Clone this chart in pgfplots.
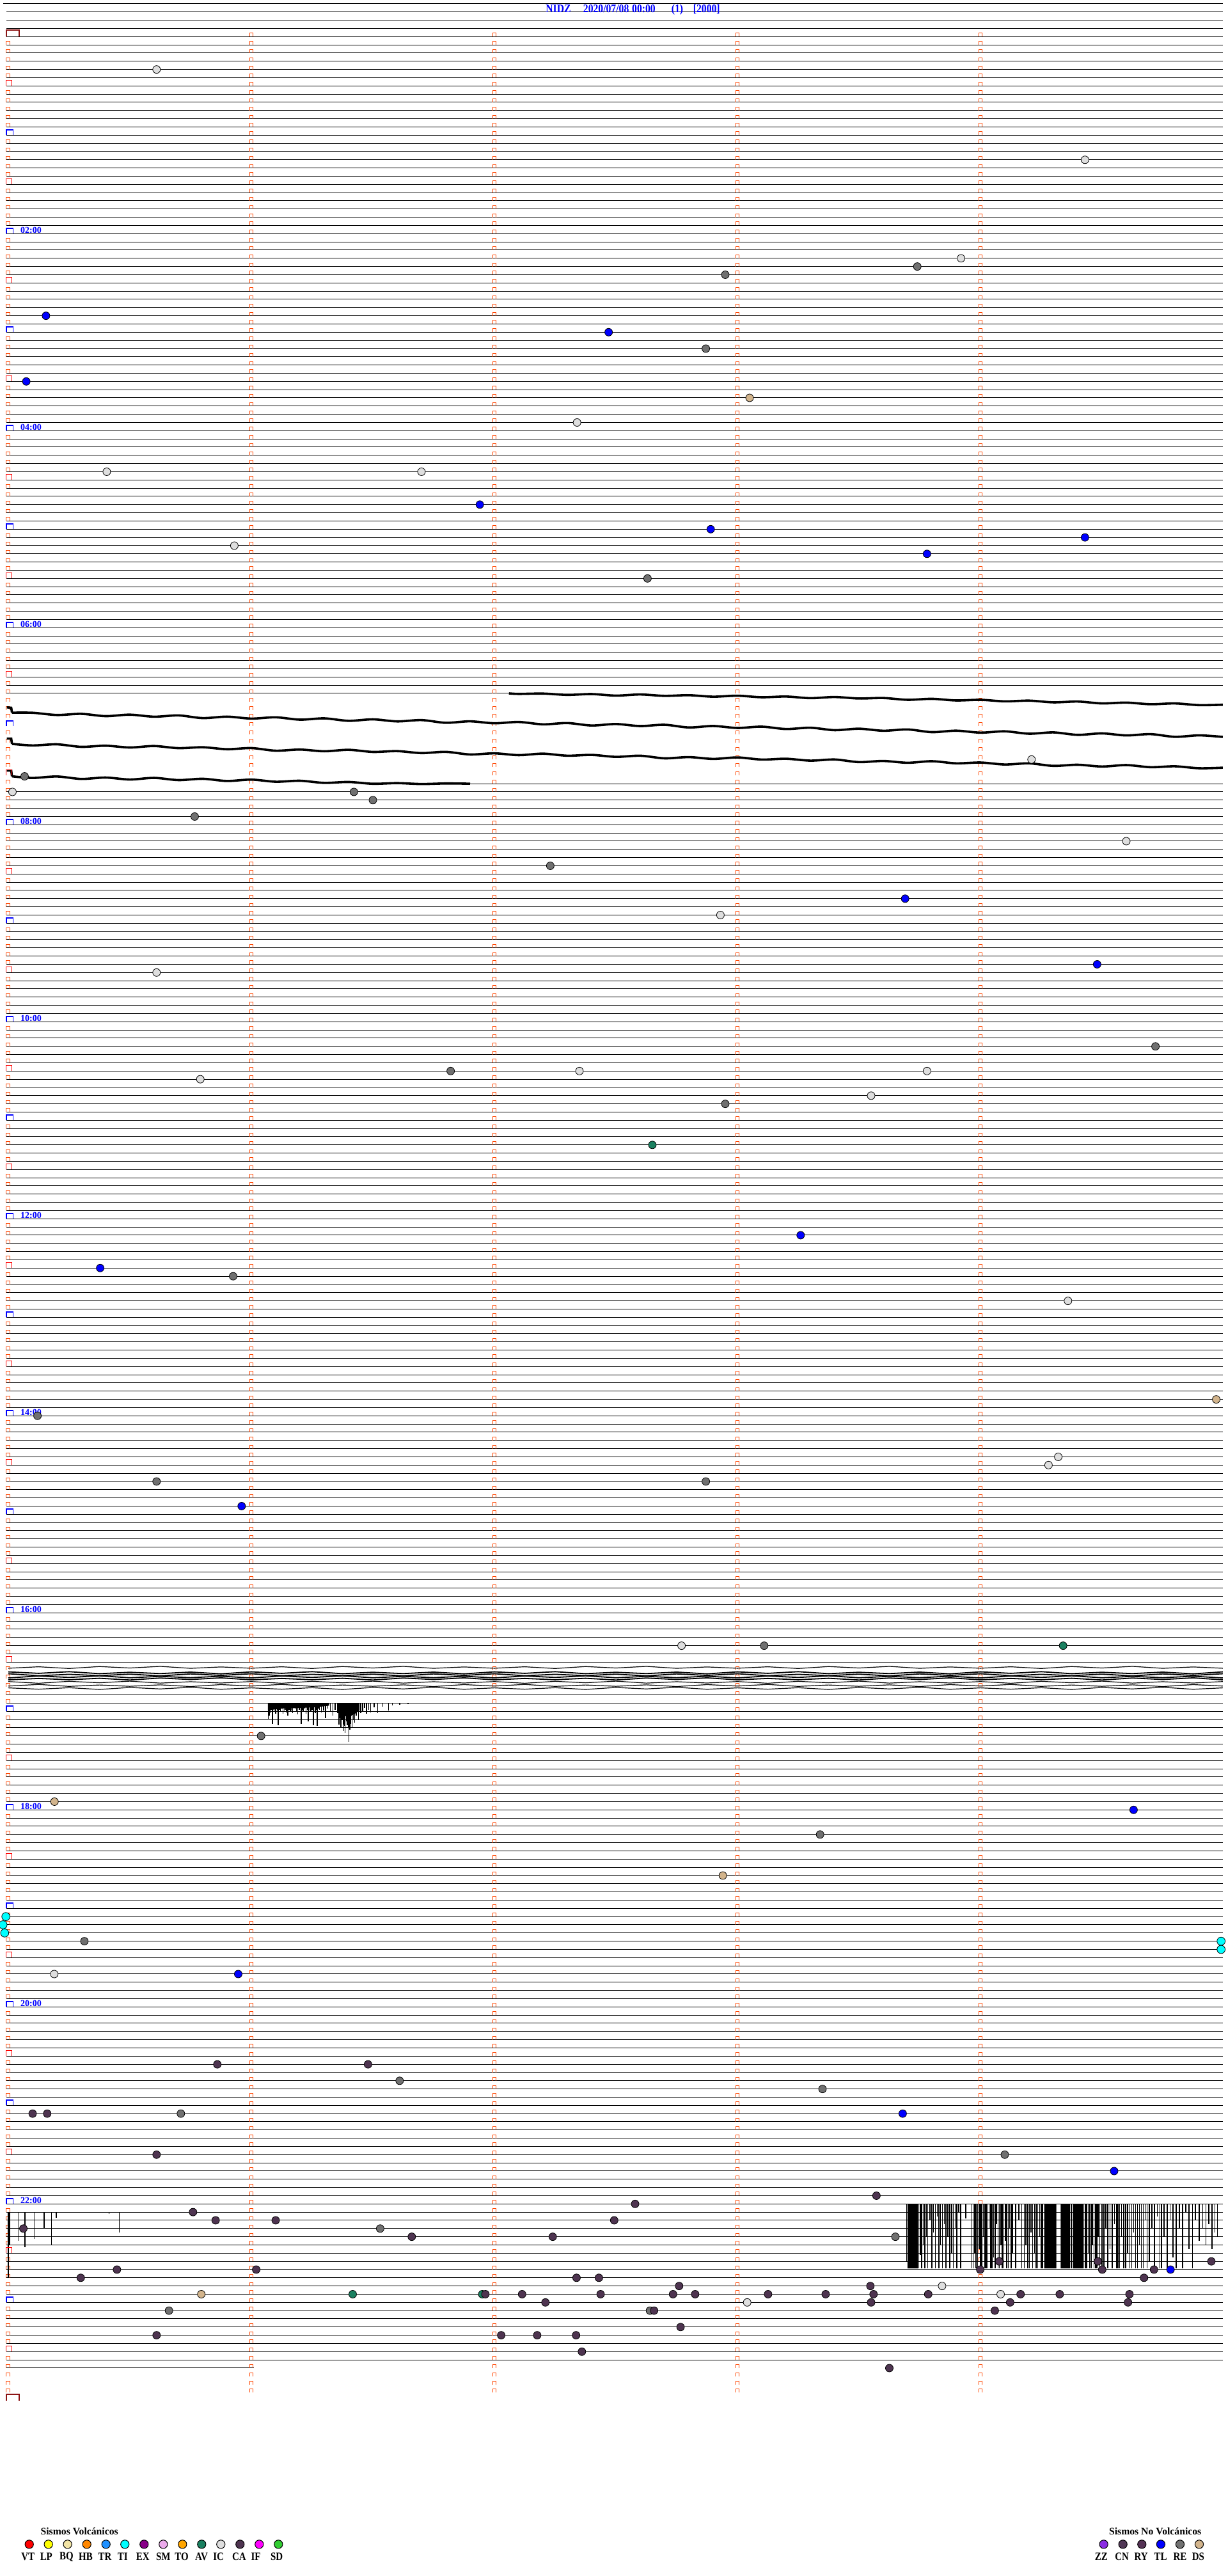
\documentclass[border=0pt]{standalone}
\usepackage{pgfplots}
\pgfplotsset{compat=1.18}
\usepackage{pgfplotstable}
\usepackage{graphicx}
\usepackage{fontspec}
\setmainfont{Liberation Serif}
\definecolor{mk}{RGB}{255,69,0}
\definecolor{icc}{RGB}{222,222,222}
\definecolor{rec}{RGB}{112,112,112}
\definecolor{tlc}{RGB}{0,0,255}
\definecolor{dsc}{RGB}{210,180,140}
\definecolor{avc}{RGB}{26,128,96}
\definecolor{tic}{RGB}{0,255,255}
\definecolor{cac}{RGB}{78,52,80}
\definecolor{dayred}{RGB}{140,20,20}
\definecolor{vtc}{RGB}{255,0,0}
\definecolor{lpc}{RGB}{255,255,0}
\definecolor{bqc}{RGB}{242,228,165}
\definecolor{hbc}{RGB}{255,135,0}
\definecolor{trc}{RGB}{30,144,255}
\definecolor{exc}{RGB}{135,0,135}
\definecolor{smc}{RGB}{235,170,235}
\definecolor{toc}{RGB}{255,165,0}
\definecolor{ifc}{RGB}{255,0,255}
\definecolor{sdc}{RGB}{50,205,50}
\definecolor{zzc}{RGB}{138,43,226}
\definecolor{cnc}{RGB}{80,55,85}
\definecolor{ryc}{RGB}{85,50,85}
\pgfdeclareplotmark{hourcap}{\pgfpathmoveto{\pgfpoint{-1.6pt}{0pt}}\pgfpathlineto{\pgfpoint{-1.6pt}{4.15pt}}\pgfpathlineto{\pgfpoint{3.7pt}{4.15pt}}\pgfpathlineto{\pgfpoint{3.7pt}{0pt}}\pgfusepathqstroke}
\pgfdeclareplotmark{halfcap}{\pgfpathmoveto{\pgfpoint{-1.6pt}{0pt}}\pgfpathlineto{\pgfpoint{-1.6pt}{4.5pt}}\pgfpathlineto{\pgfpoint{2.9pt}{4.5pt}}\pgfpathlineto{\pgfpoint{2.9pt}{0pt}}\pgfusepathqstroke}
\pgfdeclareplotmark{daycap}{\pgfpathmoveto{\pgfpoint{-1.6pt}{0pt}}\pgfpathlineto{\pgfpoint{-1.6pt}{5.3pt}}\pgfpathlineto{\pgfpoint{8.6pt}{5.3pt}}\pgfpathlineto{\pgfpoint{8.6pt}{0pt}}\pgfusepathqstroke}
\newcommand{\ttl}[1]{\scalebox{0.87}[1]{\fontsize{9}{9}\selectfont\bfseries #1}}
\newcommand{\hr}[1]{{\fontsize{7}{7}\selectfont\bfseries #1}}
\newcommand{\lab}[1]{\scalebox{0.85}[1]{\fontsize{8.8}{8.8}\selectfont\bfseries #1}}
\newcommand{\lgt}[1]{{\fontsize{7.85}{7.85}\selectfont\bfseries #1}}

\pgfplotstableread{
t L1 L2 L3 L4 L5 L6 L7 L8
0.000 198.75 199.19 199.42 199.93 200.16 200.37 200.92 201.14
0.125 198.57 199.37 199.66 199.69 199.99 200.58 200.72 201.30
0.250 198.78 199.17 199.49 199.87 200.15 200.34 200.96 201.12
0.375 198.54 199.41 199.65 199.67 199.97 200.52 200.79 201.33
0.500 198.72 199.24 199.47 199.91 200.18 200.32 200.95 201.09
0.625 198.52 199.40 199.68 199.74 199.94 200.56 200.77 201.27
0.750 198.76 199.22 199.44 199.90 200.12 200.39 200.98 201.07
0.875 198.59 199.43 199.62 199.72 199.92 200.55 200.74 201.31
1.000 198.75 199.19 199.42 199.93 200.16 200.37 200.92 201.14
1.125 198.57 199.37 199.66 199.69 199.99 200.58 200.72 201.30
1.250 198.78 199.17 199.49 199.87 200.15 200.34 200.96 201.12
1.375 198.54 199.41 199.65 199.67 199.97 200.52 200.79 201.33
1.500 198.72 199.24 199.47 199.91 200.18 200.32 200.95 201.09
1.625 198.52 199.40 199.68 199.74 199.94 200.56 200.77 201.27
1.750 198.76 199.22 199.44 199.90 200.12 200.39 200.98 201.07
1.875 198.59 199.43 199.62 199.72 199.92 200.55 200.74 201.31
2.000 198.75 199.19 199.42 199.93 200.16 200.37 200.92 201.14
2.125 198.57 199.37 199.66 199.69 199.99 200.58 200.72 201.30
2.250 198.78 199.17 199.49 199.87 200.15 200.34 200.96 201.12
2.375 198.54 199.41 199.65 199.67 199.97 200.52 200.79 201.33
2.500 198.72 199.24 199.47 199.91 200.18 200.32 200.95 201.09
2.625 198.52 199.40 199.68 199.74 199.94 200.56 200.77 201.27
2.750 198.76 199.22 199.44 199.90 200.12 200.39 200.98 201.07
2.875 198.59 199.43 199.62 199.72 199.92 200.55 200.74 201.31
3.000 198.75 199.19 199.42 199.93 200.16 200.37 200.92 201.14
3.125 198.57 199.37 199.66 199.69 199.99 200.58 200.72 201.30
3.250 198.78 199.17 199.49 199.87 200.15 200.34 200.96 201.12
3.375 198.54 199.41 199.65 199.67 199.97 200.52 200.79 201.33
3.500 198.72 199.24 199.47 199.91 200.18 200.32 200.95 201.09
3.625 198.52 199.40 199.68 199.74 199.94 200.56 200.77 201.27
3.750 198.76 199.22 199.44 199.90 200.12 200.39 200.98 201.07
3.875 198.59 199.43 199.62 199.72 199.92 200.55 200.74 201.31
4.000 198.75 199.19 199.42 199.93 200.16 200.37 200.92 201.14
4.125 198.57 199.37 199.66 199.69 199.99 200.58 200.72 201.30
4.250 198.78 199.17 199.49 199.87 200.15 200.34 200.96 201.12
4.375 198.54 199.41 199.65 199.67 199.97 200.52 200.79 201.33
4.500 198.72 199.24 199.47 199.91 200.18 200.32 200.95 201.09
4.625 198.52 199.40 199.68 199.74 199.94 200.56 200.77 201.27
4.750 198.76 199.22 199.44 199.90 200.12 200.39 200.98 201.07
4.875 198.59 199.43 199.62 199.72 199.92 200.55 200.74 201.31
4.997 198.75 199.19 199.42 199.93 200.16 200.37 200.92 201.14
}\tangle

\pgfplotstableread{
t k e
1.069 203 1.9
1.074 203 1.5
1.080 203 1.2
1.087 203 2.5
1.094 203 1.0
1.100 203 1.3
1.106 203 0.9
1.111 203 2.7
1.116 203 0.8
1.120 203 1.0
1.125 203 0.7
1.130 203 1.3
1.135 203 0.9
1.140 203 0.8
1.145 203 1.1
1.150 203 1.5
1.155 203 0.8
1.160 203 1.0
1.165 203 0.9
1.170 203 1.2
1.175 203 0.6
1.180 203 0.7
1.185 203 1.0
1.190 203 1.4
1.197 203 0.8
1.205 203 2.5
1.210 203 0.9
1.215 203 1.0
1.220 203 0.7
1.225 203 1.3
1.230 203 0.8
1.234 203 2.2
1.240 203 0.9
1.245 203 1.0
1.250 203 0.8
1.255 203 2.7
1.263 203 1.2
1.267 203 0.8
1.271 203 2.8
1.276 203 0.7
1.280 203 0.8
1.288 203 1.1
1.297 203 0.9
1.305 203 1.8
1.315 203 0.7
1.325 203 1.0
1.335 203 1.5
1.345 203 0.8
1.355 203 1.2
1.360 203 2.6
1.364 203 1.8
1.368 203 3.0
1.374 203 2.0
1.377 203 2.6
1.380 203 3.4
1.383 203 2.8
1.386 203 3.6
1.392 203 2.2
1.395 203 2.7
1.398 203 3.0
1.402 203 4.7
1.405 203 3.2
1.408 203 2.5
1.414 203 3.0
1.420 203 2.0
1.425 203 2.4
1.432 203 1.5
1.440 203 2.0
1.450 203 1.2
1.458 203 1.0
1.466 203 0.6
1.474 203 1.3
1.483 203 0.8
1.490 203 1.1
1.505 203 0.5
1.520 203 1.2
1.540 203 0.4
1.565 203 0.9
1.580 203 0.3
1.610 203 0.2
1.645 203 0.1
}\spikesA

\pgfplotstableread{
t k e
3.696 264 7.0
3.746 264 7.85
3.752 264 6.2
3.758 264 7.85
3.765 264 5.0
3.771 264 7.85
3.778 264 4.0
3.783 264 7.85
3.792 264 2.0
3.800 264 7.85
3.807 264 3.5
3.814 264 7.85
3.822 264 1.5
3.829 264 7.85
3.836 264 5.0
3.843 264 7.85
3.851 264 2.5
3.858 264 7.85
3.866 264 4.0
3.873 264 7.85
3.881 264 6.0
3.888 264 7.85
3.896 264 3.0
3.903 264 7.85
3.911 264 1.0
3.918 264 7.85
3.940 264 1.8
3.964 264 7.85
3.970 264 7.85
3.976 264 6.0
3.982 264 7.85
3.988 264 7.85
3.994 264 5.5
4.000 264 7.85
4.006 264 7.85
4.012 264 4.0
4.018 264 7.85
4.024 264 7.85
4.030 264 7.85
4.036 264 3.0
4.042 264 7.85
4.048 264 7.85
4.054 264 6.5
4.060 264 7.85
4.066 264 2.5
4.072 264 7.85
4.078 264 7.85
4.084 264 5.0
4.090 264 7.85
4.096 264 7.85
4.102 264 4.5
4.108 264 7.85
4.114 264 7.85
4.120 264 3.0
4.126 264 7.85
4.132 264 6.0
4.145 264 7.85
4.158 264 2.0
4.170 264 7.85
4.180 264 7.85
4.187 264 5.0
4.194 264 7.85
4.201 264 7.85
4.208 264 3.5
4.215 264 7.85
4.222 264 6.0
4.229 264 7.85
4.236 264 7.85
4.243 264 4.0
4.250 264 7.85
4.256 264 7.85
4.374 264 7.85
4.431 264 7.85
4.437 264 7.85
4.443 264 6.0
4.449 264 7.85
4.455 264 7.85
4.461 264 5.0
4.467 264 7.85
4.473 264 7.85
4.479 264 7.85
4.485 264 4.0
4.491 264 7.85
4.500 264 7.85
4.508 264 7.85
4.516 264 3.0
4.524 264 7.85
4.533 264 5.5
4.542 264 7.85
4.551 264 2.5
4.560 264 7.85
4.566 264 7.85
4.572 264 7.85
4.580 264 4.0
4.590 264 7.85
4.598 264 7.85
4.606 264 6.0
4.614 264 7.85
4.622 264 7.85
4.630 264 3.5
4.638 264 7.85
4.646 264 7.85
4.654 264 5.0
4.662 264 7.85
4.670 264 7.85
4.678 264 2.0
4.686 264 7.85
4.694 264 7.0
4.705 264 3.0
4.716 264 7.85
4.728 264 1.5
4.738 264 7.85
4.744 264 7.85
4.755 264 4.0
4.768 264 7.85
4.780 264 2.0
4.792 264 6.5
4.805 264 7.85
4.818 264 3.0
4.832 264 7.85
4.845 264 1.0
4.858 264 5.5
4.872 264 7.85
4.885 264 2.0
4.900 264 4.5
4.915 264 3.0
4.928 264 5.0
4.940 264 2.5
4.952 264 5.5
4.965 264 3.5
4.975 264 4.0
0.000 265 7.9
0.006 265 4.0
0.043 265 3.5
0.068 265 4.3
0.109 265 3.3
0.147 265 2.0
0.178 265 4.0
0.198 265 0.7
0.414 265 0.2
0.457 265 2.5
}\spikesB

\begin{document}
\begin{tikzpicture}
\begin{axis}[
  x=190pt, y=6.41667pt, y dir=reverse,
  xmin=-0.00789, xmax=4.99737, ymin=-4.4649, ymax=309.33,
  enlargelimits=false, clip=false,
  axis line style={draw=none}, tick style={draw=none},
  major tick length=0pt,
  xtick=\empty,
  ytick={-4,-3,...,79,92,93,...,198,202,203,...,283},
  yticklabels={},
  ymajorgrids, major grid style={black,line width=0.5pt},
]
\coordinate (bbSW) at (axis cs:-0.034211,309.33);
\coordinate (bbNE) at (axis cs:5.018421,-4.4649);

% partial trace lines
\addplot[black,line width=0.5pt] coordinates {(-0.0211,-4)(-0.00789,-4)};
\addplot[black,line width=0.5pt] coordinates {(-0.00789,284)(1.01,284)};
\addplot[black,line width=0.5pt] coordinates {(-0.00789,80)(2.06,80)};
\addplot[black,line width=0.5pt] coordinates {(1.55,91)(4.99737,91)};

% minute markers, columns 1-4
\addplot[mk,line width=0.5pt,dash pattern=on 3pt off 3.41667pt] coordinates {(0.9925,-0.46753)(0.9925,287.02)};
\addplot[mk,line width=0.5pt,dash pattern=on 3pt off 3.41667pt] coordinates {(1.0075,-0.46753)(1.0075,287.02)};
\addplot[mk,line width=3.35pt,dash pattern=on 0.5pt off 5.91667pt] coordinates {(1,-0.46753)(1,287.02)};
\addplot[mk,line width=0.5pt,dash pattern=on 3pt off 3.41667pt] coordinates {(1.9925,-0.46753)(1.9925,287.02)};
\addplot[mk,line width=0.5pt,dash pattern=on 3pt off 3.41667pt] coordinates {(2.0075,-0.46753)(2.0075,287.02)};
\addplot[mk,line width=3.35pt,dash pattern=on 0.5pt off 5.91667pt] coordinates {(2,-0.46753)(2,287.02)};
\addplot[mk,line width=0.5pt,dash pattern=on 3pt off 3.41667pt] coordinates {(2.9925,-0.46753)(2.9925,287.02)};
\addplot[mk,line width=0.5pt,dash pattern=on 3pt off 3.41667pt] coordinates {(3.0075,-0.46753)(3.0075,287.02)};
\addplot[mk,line width=3.35pt,dash pattern=on 0.5pt off 5.91667pt] coordinates {(3,-0.46753)(3,287.02)};
\addplot[mk,line width=0.5pt,dash pattern=on 3pt off 3.41667pt] coordinates {(3.9925,-0.46753)(3.9925,287.02)};
\addplot[mk,line width=0.5pt,dash pattern=on 3pt off 3.41667pt] coordinates {(4.0075,-0.46753)(4.0075,287.02)};
\addplot[mk,line width=3.35pt,dash pattern=on 0.5pt off 5.91667pt] coordinates {(4,-0.46753)(4,287.02)};
% column 0 (skip every sixth)
\addplot[mk,line width=0.5pt,dash pattern=on 3pt off 3.41667pt on 3pt off 3.41667pt on 3pt off 3.41667pt on 3pt off 3.41667pt on 3pt off 9.83333pt] coordinates {(-0.0084,0.53247)(-0.0084,287.02)};
\addplot[mk,line width=0.5pt,dash pattern=on 3pt off 3.41667pt on 3pt off 3.41667pt on 3pt off 3.41667pt on 3pt off 3.41667pt on 3pt off 9.83333pt] coordinates {(0.0066,0.53247)(0.0066,287.02)};
\addplot[mk,line width=3.35pt,dash pattern=on 0.5pt off 5.91667pt on 0.5pt off 5.91667pt on 0.5pt off 5.91667pt on 0.5pt off 5.91667pt on 0.5pt off 12.33333pt] coordinates {(-0.0009,0.53247)(-0.0009,287.02)};

% hour, half hour and day brackets
\addplot[only marks,mark=hourcap,blue,mark options={line width=0.7pt}] coordinates {(0,12)(0,24)(0,36)(0,48)(0,60)(0,72)(0,84)(0,96)(0,108)(0,120)(0,132)(0,144)(0,156)(0,168)(0,180)(0,192)(0,204)(0,216)(0,228)(0,240)(0,252)(0,264)(0,276)};
\addplot[only marks,mark=halfcap,red,mark options={line width=0.5pt}] coordinates {(0,6)(0,18)(0,30)(0,42)(0,54)(0,66)(0,78)(0,90)(0,102)(0,114)(0,126)(0,138)(0,150)(0,162)(0,174)(0,186)(0,198)(0,210)(0,222)(0,234)(0,246)(0,258)(0,270)(0,282)};
\addplot[only marks,mark=daycap,dayred,mark options={line width=1pt}] coordinates {(0,0)(0,288)};

% noisy traces 06:45-07:30
\addplot[black,line width=1.8pt,smooth] coordinates {(2.06,80.00)(2.1,80.06)(2.2,80.02)(2.3,80.18)(2.4,80.08)(2.5,80.27)(2.6,80.13)(2.7,80.30)(2.8,80.22)(2.9,80.40)(3.0,80.28)(3.1,80.47)(3.2,80.38)(3.3,80.58)(3.4,80.44)(3.5,80.62)(3.6,80.56)(3.7,80.78)(3.8,80.66)(3.9,80.86)(4.0,80.78)(4.1,80.97)(4.2,80.88)(4.3,81.09)(4.4,80.99)(4.5,81.22)(4.6,81.12)(4.7,81.32)(4.8,81.22)(4.9,81.43)(4.997,81.38)};
\addplot[black,line width=1.8pt] coordinates {(-0.006,81.7)(0.012,81.75)(0.015,82.35)};
\addplot[black,line width=1.8pt,smooth] coordinates {(0.015,82.35)(0.1,82.36)(0.2,82.63)(0.3,82.49)(0.4,82.77)(0.5,82.59)(0.6,82.84)(0.7,82.68)(0.8,83.01)(0.9,82.83)(1.0,83.07)(1.1,82.91)(1.2,83.20)(1.3,83.04)(1.4,83.34)(1.5,83.16)(1.6,83.41)(1.7,83.25)(1.8,83.58)(1.9,83.40)(2.0,83.64)(2.1,83.48)(2.2,83.77)(2.3,83.61)(2.4,83.91)(2.5,83.73)(2.6,83.98)(2.7,83.82)(2.8,84.15)(2.9,83.97)(3.0,84.21)(3.1,84.05)(3.2,84.34)(3.3,84.18)(3.4,84.48)(3.5,84.30)(3.6,84.55)(3.7,84.39)(3.8,84.72)(3.9,84.54)(4.0,84.78)(4.1,84.62)(4.2,84.91)(4.3,84.75)(4.4,85.05)(4.5,84.87)(4.6,85.12)(4.7,84.96)(4.8,85.29)(4.9,85.11)(4.997,85.30)};
\addplot[black,line width=1.8pt] coordinates {(-0.006,85.5)(0.012,85.5)(0.015,86.15)};
\addplot[black,line width=1.8pt,smooth] coordinates {(0.015,86.15)(0.1,86.34)(0.2,86.20)(0.3,86.51)(0.4,86.37)(0.5,86.59)(0.6,86.41)(0.7,86.67)(0.8,86.56)(0.9,86.80)(1.0,86.66)(1.1,86.98)(1.2,86.84)(1.3,87.05)(1.4,86.87)(1.5,87.13)(1.6,87.03)(1.7,87.27)(1.8,87.12)(1.9,87.44)(2.0,87.30)(2.1,87.52)(2.2,87.34)(2.3,87.59)(2.4,87.49)(2.5,87.73)(2.6,87.59)(2.7,87.91)(2.8,87.76)(2.9,87.98)(3.0,87.80)(3.1,88.06)(3.2,87.96)(3.3,88.19)(3.4,88.05)(3.5,88.37)(3.6,88.23)(3.7,88.45)(3.8,88.26)(3.9,88.52)(4.0,88.42)(4.1,88.66)(4.2,88.52)(4.3,88.83)(4.4,88.69)(4.5,88.91)(4.6,88.73)(4.7,88.99)(4.8,88.88)(4.9,89.12)(4.997,89.05)};
\addplot[black,line width=1.8pt] coordinates {(-0.006,89.4)(0.012,89.4)(0.015,90.1)};
\addplot[black,line width=1.8pt,smooth] coordinates {(0.015,90.1)(0.1,90.30)(0.2,90.12)(0.3,90.42)(0.4,90.25)(0.5,90.49)(0.6,90.29)(0.7,90.56)(0.8,90.40)(0.9,90.67)(1.0,90.50)(1.1,90.76)(1.2,90.64)(1.3,90.90)(1.4,90.79)(1.5,91.01)(1.6,90.93)(1.7,91.04)(1.8,90.97)(1.9,91.0)};

% tangle 16:35-16:50
\addplot[black,line width=0.6pt] table[x=t,y=L1] {\tangle};
\addplot[black,line width=0.9pt] table[x=t,y=L2] {\tangle};
\addplot[black,line width=0.9pt] table[x=t,y=L3] {\tangle};
\addplot[black,line width=0.9pt] table[x=t,y=L4] {\tangle};
\addplot[black,line width=0.9pt] table[x=t,y=L5] {\tangle};
\addplot[black,line width=0.6pt] table[x=t,y=L6] {\tangle};
\addplot[black,line width=0.6pt] table[x=t,y=L7] {\tangle};
\addplot[black,line width=0.6pt] table[x=t,y=L8] {\tangle};

% spikes
\addplot[fill=black,draw=none] coordinates {(1.068,203)(1.32,203)(1.32,203.3)(1.28,203.45)(1.20,203.6)(1.12,203.65)(1.068,203.9)(1.068,203)};
\addplot[fill=black,draw=none] coordinates {(1.36,203)(1.445,203)(1.445,203.9)(1.42,204.4)(1.40,204.7)(1.38,204.5)(1.36,203.9)(1.36,203)};
\addplot[draw=none,mark=none,error bars/.cd,y dir=plus,y explicit,error mark=none,error bar style={draw=black,line width=0.7pt}] table[x=t,y=k,y error=e] {\spikesA};
\addplot[draw=none,mark=none,error bars/.cd,y dir=plus,y explicit,error mark=none,error bar style={draw=black,line width=0.8pt}] table[x=t,y=k,y error=e] {\spikesB};
\addplot[fill=black,draw=none] coordinates {(3.700,264)(3.742,264)(3.742,271.85)(3.700,271.85)(3.700,264)};
\addplot[fill=black,draw=none] coordinates {(4.262,264)(4.312,264)(4.312,271.85)(4.262,271.85)(4.262,264)};
\addplot[fill=black,draw=none] coordinates {(4.330,264)(4.368,264)(4.368,271.85)(4.330,271.85)(4.330,264)};
\addplot[fill=black,draw=none] coordinates {(4.380,264)(4.425,264)(4.425,271.85)(4.380,271.85)(4.380,264)};

% events
\addplot[only marks,mark=*,mark size=3pt,mark options={draw=black,fill=icc,line width=0.4pt}] coordinates {(0.61,4)(4.43,15)(3.92,27)(2.34,47)(0.405,53)(1.70,53)(0.93,62)(4.21,88.05)(0.017,92)(4.60,98)(2.93,107)(0.61,114)(0.79,127)(2.35,126)(3.78,126)(3.55,129)(4.36,154)(4.32,173)(4.28,174)(2.77,196)(0.189,236)(3.842,274)(4.083,275)(3.04,276)};
\addplot[only marks,mark=*,mark size=3pt,mark options={draw=black,fill=rec,line width=0.4pt}] coordinates {(3.74,28)(2.95,29)(2.87,38)(2.63,66)(0.067,90.1)(1.422,92)(1.50,93)(0.767,95)(2.23,101)(4.72,123)(1.82,126)(2.95,130)(0.925,151)(0.12,168)(0.61,176)(2.87,176)(3.11,196)(1.04,207)(3.34,219)(0.313,232)(1.61,249)(3.35,250)(0.71,253)(4.10,258)(1.53,267)(3.65,268)(0.661,277)(2.64,277)};
\addplot[only marks,mark=*,mark size=3pt,mark options={draw=black,fill=tlc,line width=0.4pt}] coordinates {(0.155,34)(2.47,36)(0.074,42)(1.94,57)(2.89,60)(4.43,61)(3.78,63)(3.69,105)(4.48,113)(3.26,146)(0.378,150)(0.96,179)(4.63,216)(0.946,236)(3.68,253)(4.55,260)(4.782,272)};
\addplot[only marks,mark=*,mark size=3pt,mark options={draw=black,fill=dsc,line width=0.4pt}] coordinates {(3.05,44)(4.97,166)(0.19,215)(2.94,224)(0.794,275)};
\addplot[only marks,mark=*,mark size=3pt,mark options={draw=black,fill=avc,line width=0.4pt}] coordinates {(2.65,135)(4.34,196)(1.417,275)(1.95,275)};
\addplot[only marks,mark=*,mark size=3.2pt,mark options={draw=black,fill=tic,line width=0.4pt}] coordinates {(-0.01,229)(-0.022,230)(-0.015,231)(4.99,232)(4.99,233)};
\addplot[only marks,mark=*,mark size=3pt,mark options={draw=black,fill=cac,line width=0.4pt}] coordinates {(0.86,247)(1.48,247)(0.10,253)(0.16,253)(0.61,258)(0.76,265)(0.853,266)(1.10,266)(0.062,267)(1.66,268)(0.447,272)(1.02,272)(0.298,273)(0.61,280)(2.579,264)(2.493,266)(2.24,268)(2.338,273)(2.43,273)(2.76,274)(1.963,275)(2.114,275)(2.437,275)(2.735,275)(2.826,275)(3.126,275)(3.363,275)(3.56,275)(2.21,276)(3.55,276)(2.657,277)(2.766,279)(2.028,280)(2.176,280)(2.336,280)(2.36,282)(3.625,284)(3.572,263)(4.077,271)(3.999,272)(4.483,271)(4.501,272)(4.95,271)(4.714,272)(4.673,273)(3.547,274)(3.785,275)(4.165,275)(4.326,275)(4.613,275)(4.122,276)(4.607,276)(4.059,277)};

% title
\node[anchor=base west,inner sep=0pt,text=blue] at (axis cs:2.2105,-2.985) {\ttl{NIDZ}};
\node[anchor=base west,inner sep=0pt,text=blue] at (axis cs:2.3647,-2.985) {\ttl{2020/07/08}};
\node[anchor=base west,inner sep=0pt,text=blue] at (axis cs:2.5653,-2.985) {\ttl{00:00}};
\node[anchor=base west,inner sep=0pt,text=blue] at (axis cs:2.7274,-2.985) {\ttl{(1)}};
\node[anchor=base west,inner sep=0pt,text=blue] at (axis cs:2.8171,-2.985) {\ttl{[2000]}};

% hour labels
\node[anchor=base west,inner sep=0pt,text=blue] at (axis cs:0.0495,23.93) {\hr{02:00}};
\node[anchor=base west,inner sep=0pt,text=blue] at (axis cs:0.0495,47.93) {\hr{04:00}};
\node[anchor=base west,inner sep=0pt,text=blue] at (axis cs:0.0495,71.93) {\hr{06:00}};
\node[anchor=base west,inner sep=0pt,text=blue] at (axis cs:0.0495,95.93) {\hr{08:00}};
\node[anchor=base west,inner sep=0pt,text=blue] at (axis cs:0.0495,119.93) {\hr{10:00}};
\node[anchor=base west,inner sep=0pt,text=blue] at (axis cs:0.0495,143.93) {\hr{12:00}};
\node[anchor=base west,inner sep=0pt,text=blue] at (axis cs:0.0495,167.93) {\hr{14:00}};
\node[anchor=base west,inner sep=0pt,text=blue] at (axis cs:0.0495,191.93) {\hr{16:00}};
\node[anchor=base west,inner sep=0pt,text=blue] at (axis cs:0.0495,215.93) {\hr{18:00}};
\node[anchor=base west,inner sep=0pt,text=blue] at (axis cs:0.0495,239.93) {\hr{20:00}};
\node[anchor=base west,inner sep=0pt,text=blue] at (axis cs:0.0495,263.93) {\hr{22:00}};

% legends
\addplot[only marks,mark=*,mark size=3.3pt,mark options={draw=black,fill=vtc,line width=0.5pt}] coordinates {(0.0861,305.46)};
\addplot[only marks,mark=*,mark size=3.3pt,mark options={draw=black,fill=lpc,line width=0.5pt}] coordinates {(0.1650,305.46)};
\addplot[only marks,mark=*,mark size=3.3pt,mark options={draw=black,fill=bqc,line width=0.5pt}] coordinates {(0.2439,305.46)};
\addplot[only marks,mark=*,mark size=3.3pt,mark options={draw=black,fill=hbc,line width=0.5pt}] coordinates {(0.3229,305.46)};
\addplot[only marks,mark=*,mark size=3.3pt,mark options={draw=black,fill=trc,line width=0.5pt}] coordinates {(0.4018,305.46)};
\addplot[only marks,mark=*,mark size=3.3pt,mark options={draw=black,fill=tic,line width=0.5pt}] coordinates {(0.4797,305.46)};
\addplot[only marks,mark=*,mark size=3.3pt,mark options={draw=black,fill=exc,line width=0.5pt}] coordinates {(0.5587,305.46)};
\addplot[only marks,mark=*,mark size=3.3pt,mark options={draw=black,fill=smc,line width=0.5pt}] coordinates {(0.6376,305.46)};
\addplot[only marks,mark=*,mark size=3.3pt,mark options={draw=black,fill=toc,line width=0.5pt}] coordinates {(0.7166,305.46)};
\addplot[only marks,mark=*,mark size=3.3pt,mark options={draw=black,fill=avc,line width=0.5pt}] coordinates {(0.7955,305.46)};
\addplot[only marks,mark=*,mark size=3.3pt,mark options={draw=black,fill=icc,line width=0.5pt}] coordinates {(0.8745,305.46)};
\addplot[only marks,mark=*,mark size=3.3pt,mark options={draw=black,fill=cac,line width=0.5pt}] coordinates {(0.9534,305.46)};
\addplot[only marks,mark=*,mark size=3.3pt,mark options={draw=black,fill=ifc,line width=0.5pt}] coordinates {(1.0324,305.46)};
\addplot[only marks,mark=*,mark size=3.3pt,mark options={draw=black,fill=sdc,line width=0.5pt}] coordinates {(1.1113,305.46)};
\addplot[only marks,mark=*,mark size=3.3pt,mark options={draw=black,fill=zzc,line width=0.5pt}] coordinates {(4.507,305.46)};
\addplot[only marks,mark=*,mark size=3.3pt,mark options={draw=black,fill=cnc,line width=0.5pt}] coordinates {(4.586,305.46)};
\addplot[only marks,mark=*,mark size=3.3pt,mark options={draw=black,fill=ryc,line width=0.5pt}] coordinates {(4.664,305.46)};
\addplot[only marks,mark=*,mark size=3.3pt,mark options={draw=black,fill=tlc,line width=0.5pt}] coordinates {(4.742,305.46)};
\addplot[only marks,mark=*,mark size=3.3pt,mark options={draw=black,fill=rec,line width=0.5pt}] coordinates {(4.821,305.46)};
\addplot[only marks,mark=*,mark size=3.3pt,mark options={draw=black,fill=dsc,line width=0.5pt}] coordinates {(4.900,305.46)};

\node[inner sep=0pt] at (axis cs:0.2926,303.87) {\lgt{Sismos Volcánicos}};
\node[inner sep=0pt] at (axis cs:4.719,303.87) {\lgt{Sismos No Volcánicos}};
\node[inner sep=0pt] at (axis cs:0.0808,306.97) {\lab{VT}};
\node[inner sep=0pt] at (axis cs:0.1561,306.97) {\lab{LP}};
\node[inner sep=0pt] at (axis cs:0.2395,306.97) {\lab{BQ}};
\node[inner sep=0pt] at (axis cs:0.3184,306.97) {\lab{HB}};
\node[inner sep=0pt] at (axis cs:0.3974,306.97) {\lab{TR}};
\node[inner sep=0pt] at (axis cs:0.4703,306.97) {\lab{TI}};
\node[inner sep=0pt] at (axis cs:0.5534,306.97) {\lab{EX}};
\node[inner sep=0pt] at (axis cs:0.6376,306.97) {\lab{SM}};
\node[inner sep=0pt] at (axis cs:0.7132,306.97) {\lab{TO}};
\node[inner sep=0pt] at (axis cs:0.7947,306.97) {\lab{AV}};
\node[inner sep=0pt] at (axis cs:0.8650,306.97) {\lab{IC}};
\node[inner sep=0pt] at (axis cs:0.9500,306.97) {\lab{CA}};
\node[inner sep=0pt] at (axis cs:1.0184,306.97) {\lab{IF}};
\node[inner sep=0pt] at (axis cs:1.1045,306.97) {\lab{SD}};
\node[inner sep=0pt] at (axis cs:4.497,306.97) {\lab{ZZ}};
\node[inner sep=0pt] at (axis cs:4.582,306.97) {\lab{CN}};
\node[inner sep=0pt] at (axis cs:4.661,306.97) {\lab{RY}};
\node[inner sep=0pt] at (axis cs:4.741,306.97) {\lab{TL}};
\node[inner sep=0pt] at (axis cs:4.821,306.97) {\lab{RE}};
\node[inner sep=0pt] at (axis cs:4.896,306.97) {\lab{DS}};
\end{axis}
\pgfresetboundingbox
\path[use as bounding box] (bbSW) rectangle (bbNE);
\end{tikzpicture}
\end{document}
